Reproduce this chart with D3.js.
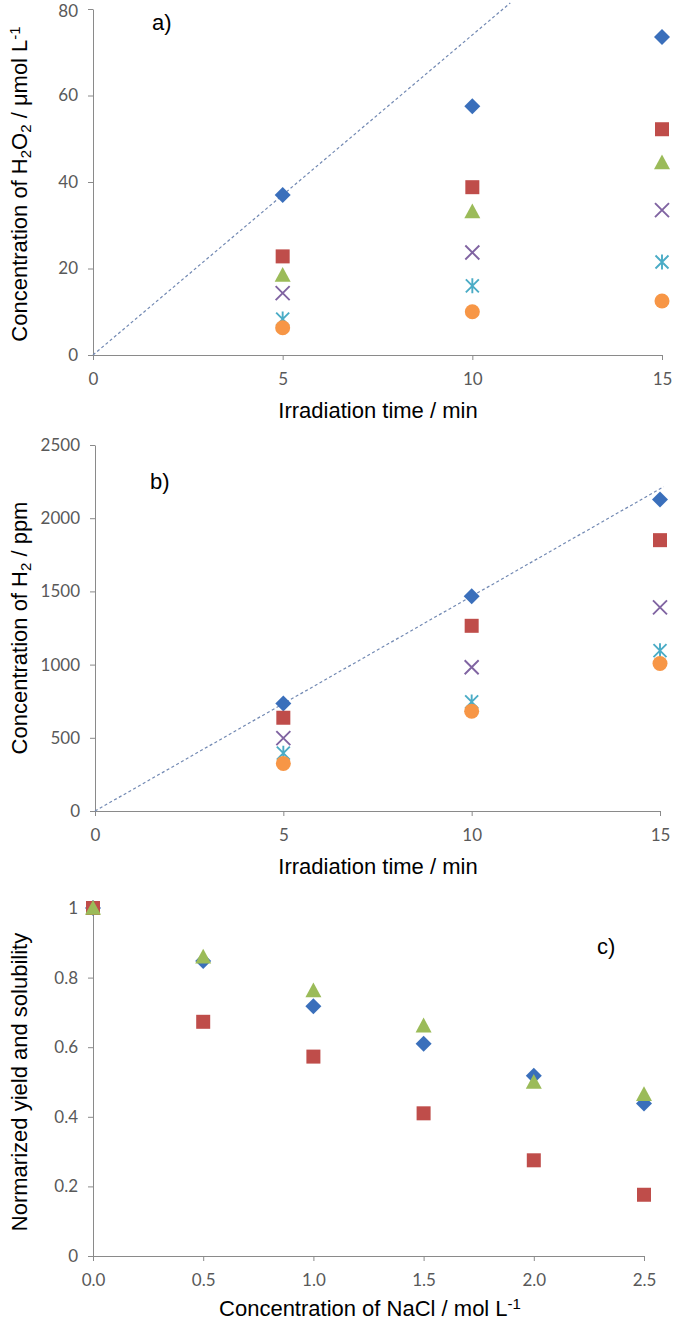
<!DOCTYPE html>
<html><head><meta charset="utf-8">
<script src="https://cdn.jsdelivr.net/npm/d3@7"></script>
<style>
body{margin:0;background:#fff;}
svg{display:block;}
.tick text{font-family:Lato,"Open Sans",sans-serif;font-size:17px;fill:#595959;}
.ttl{font-family:"Liberation Sans",Arial,sans-serif;font-size:22px;fill:#000;}
</style></head>
<body>
<svg id="c" width="677" height="1321"></svg>
<script>
// ---------- Data ----------
const timeA = [5, 10, 15];
const aDiamond = [37.0, 57.5, 73.5];
const aSquare  = [22.8, 38.8, 52.2];
const aTriangle= [18.5, 33.2, 44.5];
const aCross   = [14.3, 23.7, 33.5];
const aStar    = [8.3, 16.0, 21.5];
const aCircle  = [6.3, 10.0, 12.5];
const aTrend   = [[0, 0], [11.0, 81.4]];
const aYTicks  = [0, 20, 40, 60, 80];
const aXTicks  = [0, 5, 10, 15];

const timeB = [5, 10, 15];
const bDiamond = [735, 1467, 2128];
const bSquare  = [637, 1265, 1850];
const bCross   = [498, 982, 1391];
const bStar    = [395, 745, 1095];
const bCircle  = [325, 682, 1008];
const bTrend   = [[0, 0], [15.1, 2215]];
const bYTicks  = [0, 500, 1000, 1500, 2000, 2500];
const bXTicks  = [0, 5, 10, 15];

const nacl = [0, 0.5, 1.0, 1.5, 2.0, 2.5];
const cDiamond = [1.0, 0.848, 0.718, 0.610, 0.518, 0.438];
const cSquare  = [1.0, 0.673, 0.573, 0.410, 0.275, 0.176];
const cTriangle= [1.0, 0.860, 0.763, 0.662, 0.500, 0.465];
const cYTicks  = [0, 0.2, 0.4, 0.6, 0.8, 1];
const cXTicks  = [0, 0.5, 1.0, 1.5, 2.0, 2.5];

// ---------- Styles ----------
const COL = {diamond:"#3A6FBB", square:"#BF4D4A", triangle:"#9BBB59", cross:"#8064A2", star:"#4BACC6", circle:"#F79646"};
const svg = d3.select("#c");

function marker(g, type, x, y) {
  const c = COL[type];
  if (type === "diamond") {
    const s = 8;
    g.append("path").attr("d", `M${x},${y-s}L${x+s},${y}L${x},${y+s}L${x-s},${y}Z`).attr("fill", c);
  } else if (type === "square") {
    const s = 7;
    g.append("rect").attr("x", x-s).attr("y", y-s).attr("width", 2*s).attr("height", 2*s).attr("fill", c);
  } else if (type === "triangle") {
    const s = 8;
    g.append("path").attr("d", `M${x},${y-s}L${x+s},${y+s*0.85}L${x-s},${y+s*0.85}Z`).attr("fill", c);
  } else if (type === "cross") {
    const s = 7;
    g.append("path").attr("d", `M${x-s},${y-s}L${x+s},${y+s}M${x+s},${y-s}L${x-s},${y+s}`)
      .attr("stroke", c).attr("stroke-width", 1.9).attr("fill", "none");
  } else if (type === "star") {
    const s = 6.5;
    g.append("path").attr("d", `M${x-s},${y-s}L${x+s},${y+s}M${x+s},${y-s}L${x-s},${y+s}M${x},${y-s-1}L${x},${y+s+1}`)
      .attr("stroke", c).attr("stroke-width", 1.9).attr("fill", "none");
  } else if (type === "circle") {
    g.append("circle").attr("cx", x).attr("cy", y).attr("r", 7.5).attr("fill", c);
  }
}

function panel(cfg) {
  const x = d3.scaleLinear().domain(cfg.xDomain).range(cfg.xRange);
  const y = d3.scaleLinear().domain(cfg.yDomain).range(cfg.yRange);
  const g = svg.append("g");

  const xAxis = d3.axisBottom(x).tickValues(cfg.xTicks).tickSizeOuter(0).tickSizeInner(5).tickPadding(10).tickFormat(cfg.xFmt);
  const yAxis = d3.axisLeft(y).tickValues(cfg.yTicks).tickSizeOuter(0).tickSizeInner(5).tickPadding(10).tickFormat(cfg.yFmt);
  const gx = g.append("g").attr("transform", `translate(0,${cfg.yRange[0]})`).call(xAxis);
  const gy = g.append("g").attr("transform", `translate(${cfg.xRange[0]},0)`).call(yAxis);
  [gx, gy].forEach(a => {
    a.selectAll("path,line").attr("stroke", "#8a8a8a").attr("stroke-width", 1);
  });
  gx.selectAll(".tick text").attr("dy", "0.9em");
  // keep the topmost tick label inside the page
  gy.selectAll(".tick text").filter(d => y(d) < 14).attr("dy", "0.45em");

  if (cfg.trend) {
    g.append("path").datum(cfg.trend)
      .attr("d", d3.line().x(d => x(d[0])).y(d => y(d[1])))
      .attr("stroke", "#7289b3").attr("stroke-width", 1.2).attr("stroke-dasharray", "3,2.5").attr("fill", "none");
  }
  cfg.series.forEach(s => {
    s.values.forEach((v, i) => marker(g, s.type, x(cfg.xs[i]), y(v)));
  });
  return {x, y, g};
}

const fmtInt = d3.format("d");

// Panel a
panel({
  xDomain:[0,15], xRange:[93,662], yDomain:[0,80], yRange:[355,9],
  xTicks:aXTicks, yTicks:aYTicks, xFmt:fmtInt, yFmt:fmtInt, xs:timeA, trend:aTrend,
  series:[
    {type:"diamond", values:aDiamond},
    {type:"square", values:aSquare},
    {type:"triangle", values:aTriangle},
    {type:"cross", values:aCross},
    {type:"star", values:aStar},
    {type:"circle", values:aCircle}
  ]
});
// Panel b
panel({
  xDomain:[0,15], xRange:[95,660], yDomain:[0,2500], yRange:[811,445],
  xTicks:bXTicks, yTicks:bYTicks, xFmt:fmtInt, yFmt:fmtInt, xs:timeB, trend:bTrend,
  series:[
    {type:"diamond", values:bDiamond},
    {type:"square", values:bSquare},
    {type:"cross", values:bCross},
    {type:"star", values:bStar},
    {type:"circle", values:bCircle}
  ]
});
// Panel c
panel({
  xDomain:[0,2.5], xRange:[93,644], yDomain:[0,1], yRange:[1256,908],
  xTicks:cXTicks, yTicks:cYTicks, xFmt:d3.format(".1f"), yFmt:d => d === 1 ? "1" : (d === 0 ? "0" : d3.format(".1f")(d)), xs:nacl,
  series:[
    {type:"diamond", values:cDiamond},
    {type:"square", values:cSquare},
    {type:"triangle", values:cTriangle}
  ]
});

// ---------- Titles ----------
function rich(el, parts) {
  parts.forEach(p => {
    const t = el.append("tspan").text(p[0]);
    if (p[1] === "sub") t.attr("baseline-shift", "-25%").attr("font-size", "15px");
    if (p[1] === "sup") t.attr("baseline-shift", "45%").attr("font-size", "15px");
  });
}
// Y titles
rich(svg.append("text").attr("class","ttl").attr("text-anchor","middle")
  .attr("transform","translate(27,184) rotate(-90)"),
  [["Concentration of H"],["2","sub"],["O"],["2","sub"],[" / \u03bcmol L"],["-1","sup"]]);
rich(svg.append("text").attr("class","ttl").attr("text-anchor","middle")
  .attr("transform","translate(27,628) rotate(-90)"),
  [["Concentration of H"],["2","sub"],[" / ppm"]]);
svg.append("text").attr("class","ttl").attr("text-anchor","middle")
  .attr("transform","translate(27,1082) rotate(-90)").text("Normarized yield and solubility");
// X titles
svg.append("text").attr("class","ttl").attr("text-anchor","middle").attr("x",378).attr("y",418).text("Irradiation time / min");
svg.append("text").attr("class","ttl").attr("text-anchor","middle").attr("x",378).attr("y",874).text("Irradiation time / min");
rich(svg.append("text").attr("class","ttl").attr("text-anchor","middle").attr("x",370).attr("y",1316),
  [["Concentration of NaCl / mol L"],["-1","sup"]]);
// Panel labels
svg.append("text").attr("class","ttl").attr("font-size","22px").attr("x",152).attr("y",30).text("a)");
svg.append("text").attr("class","ttl").attr("font-size","22px").attr("x",150).attr("y",489).text("b)");
svg.append("text").attr("class","ttl").attr("font-size","22px").attr("x",597).attr("y",954).text("c)");
</script>
</body></html>
